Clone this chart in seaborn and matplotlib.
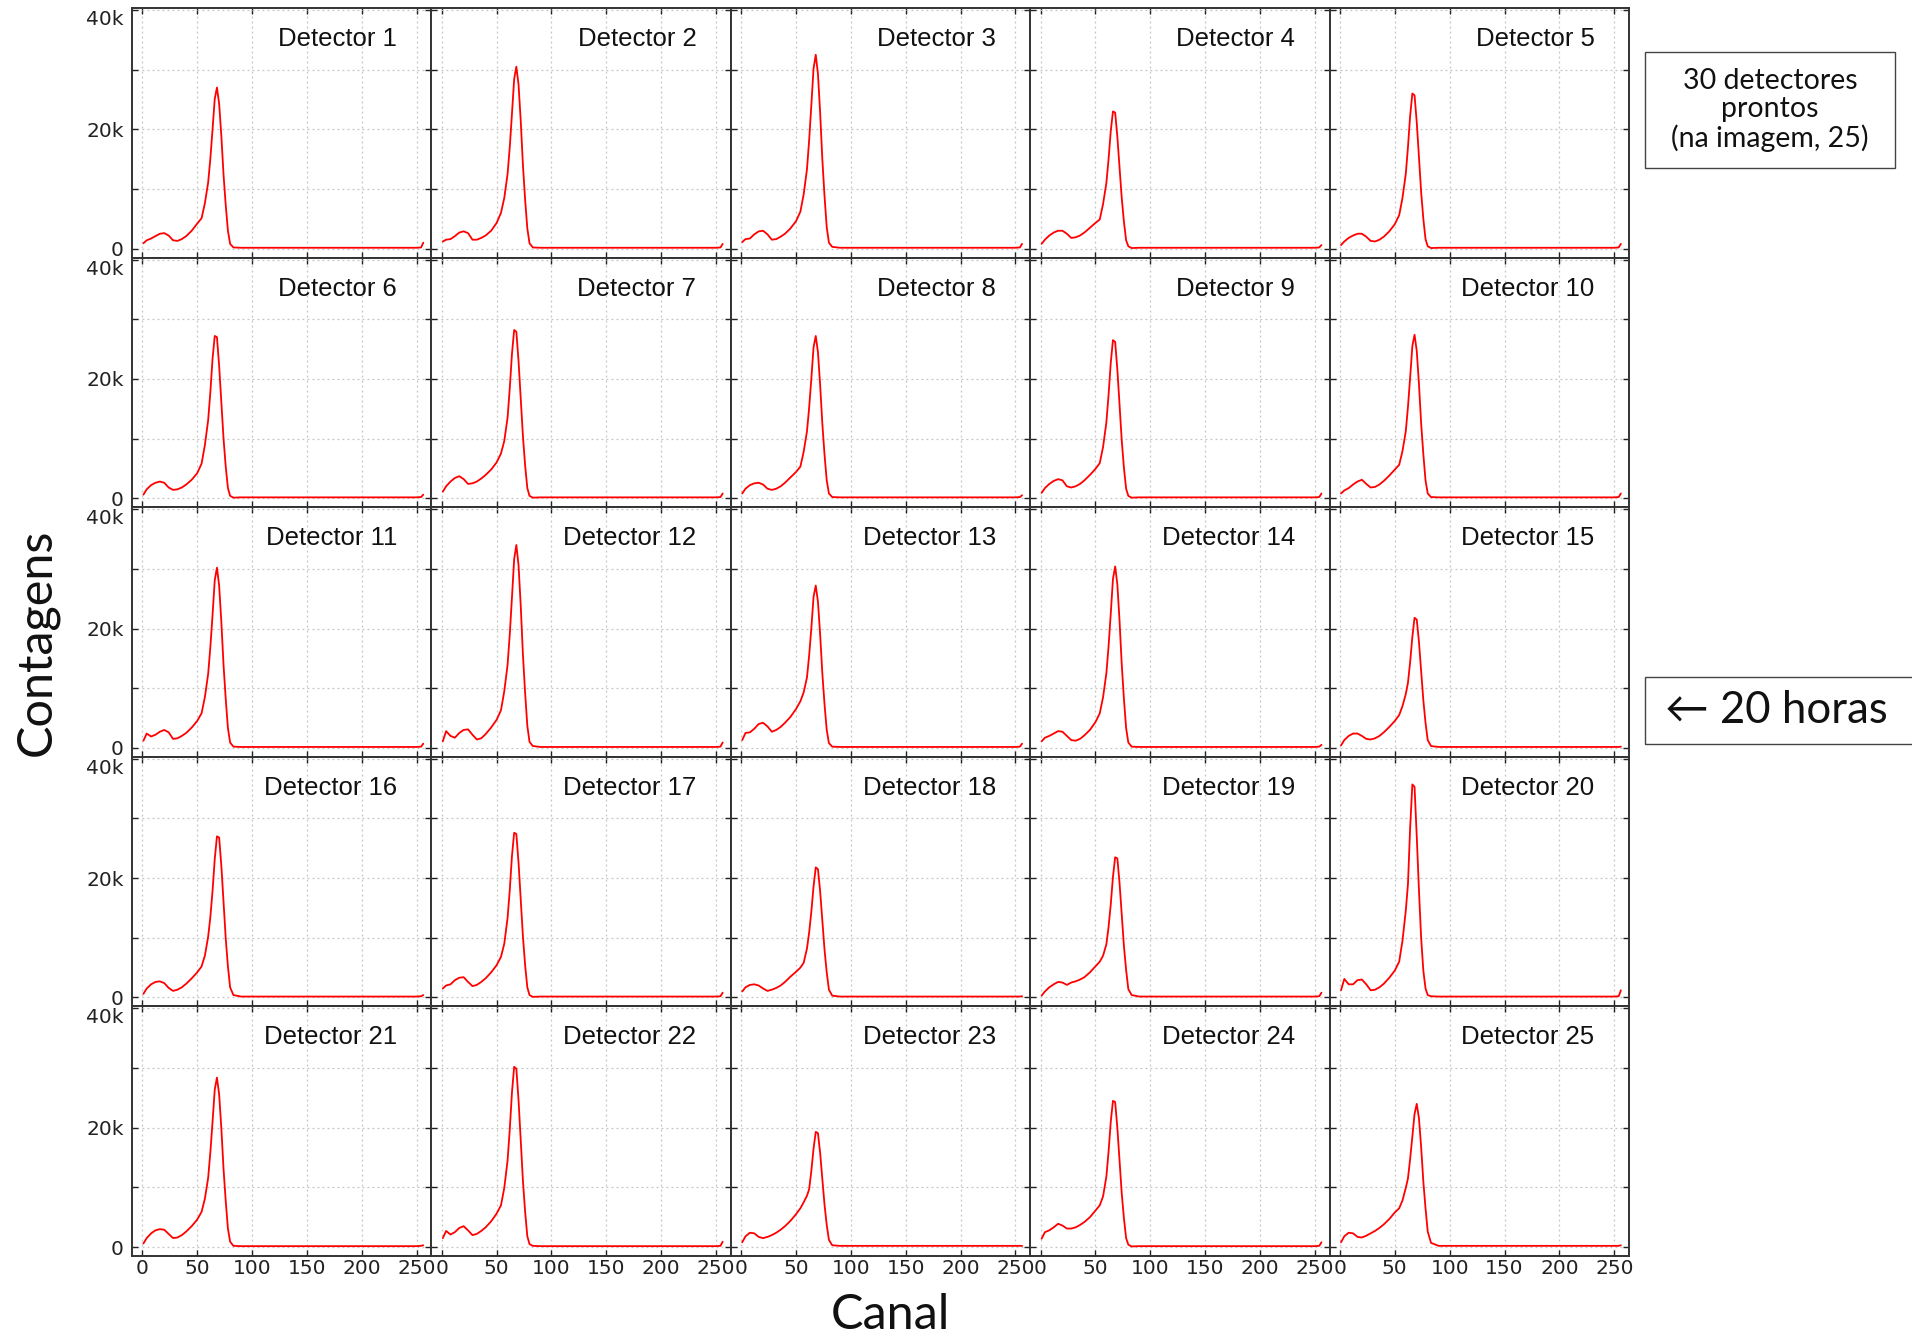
import numpy as np
import pandas as pd
import matplotlib
matplotlib.use("Agg")
import matplotlib.pyplot as plt
import seaborn as sns
from matplotlib.patches import Rectangle
from matplotlib.ticker import FuncFormatter

# ---------------- data (counts in thousands) ----------------
canal = [1, 4, 8, 12, 16, 20, 24, 28, 32, 36, 40, 45, 50,
         54, 57, 60, 62, 64, 66, 68, 70, 72, 74, 76, 78, 80, 83,
         90, 150, 250, 254, 256]

det01 = [0.9, 1.4, 1.7, 2.1, 2.5, 2.6, 2.2, 1.4, 1.3, 1.6, 2.1, 3.0, 4.2,
         5.1, 7.6, 11.1, 15.1, 20.0, 25.1, 27.0, 24.3, 18.9, 12.4, 7.3, 3.0, 0.8, 0.2,
         0.15, 0.15, 0.15, 0.2, 1.0]
det02 = [1.2, 1.5, 1.6, 2.1, 2.7, 2.9, 2.6, 1.5, 1.5, 1.8, 2.2, 3.0, 4.3,
         6.0, 8.5, 12.5, 17.0, 22.6, 28.4, 30.5, 27.5, 21.4, 14.0, 8.2, 3.4, 0.9, 0.2,
         0.15, 0.15, 0.15, 0.2, 0.8]
det03 = [1.1, 1.6, 1.7, 2.4, 2.9, 3.0, 2.4, 1.5, 1.6, 2.0, 2.5, 3.4, 4.6,
         6.2, 9.1, 13.3, 18.2, 24.1, 30.2, 32.5, 29.3, 22.8, 15.0, 8.8, 3.6, 1.0, 0.3,
         0.15, 0.15, 0.15, 0.2, 0.8]
det04 = [0.8, 1.5, 2.2, 2.7, 3.0, 3.0, 2.5, 1.8, 1.9, 2.2, 2.7, 3.5, 4.3,
         4.9, 7.5, 11.0, 15.0, 19.7, 23.0, 22.8, 18.8, 13.6, 8.5, 4.5, 1.4, 0.4, 0.1,
         0.15, 0.15, 0.15, 0.2, 0.6]
det05 = [0.6, 1.2, 1.8, 2.2, 2.5, 2.5, 2.0, 1.3, 1.2, 1.5, 2.0, 2.9, 4.1,
         5.6, 8.5, 12.5, 17.0, 22.3, 26.0, 25.7, 21.2, 15.4, 9.5, 5.0, 1.6, 0.4, 0.1,
         0.15, 0.15, 0.15, 0.2, 0.8]
det06 = [0.6, 1.5, 2.2, 2.6, 2.8, 2.6, 1.8, 1.4, 1.5, 1.8, 2.3, 3.1, 4.2,
         5.8, 8.9, 13.1, 17.8, 23.4, 27.2, 27.0, 22.2, 16.1, 10.0, 5.3, 1.7, 0.4, 0.1,
         0.15, 0.15, 0.15, 0.2, 0.6]
det07 = [1.1, 2.0, 2.8, 3.4, 3.7, 3.2, 2.4, 2.5, 2.8, 3.3, 3.9, 4.8, 6.0,
         7.5, 9.6, 13.5, 18.4, 24.2, 28.2, 27.9, 23.0, 16.7, 10.4, 5.5, 1.7, 0.4, 0.1,
         0.15, 0.15, 0.15, 0.2, 0.8]
det08 = [0.8, 1.6, 2.2, 2.5, 2.6, 2.3, 1.6, 1.4, 1.6, 2.0, 2.6, 3.5, 4.4,
         5.3, 7.8, 11.2, 15.2, 20.1, 25.3, 27.2, 24.5, 19.0, 12.5, 7.3, 3.0, 0.8, 0.2,
         0.15, 0.15, 0.15, 0.2, 0.5]
det09 = [0.9, 1.7, 2.4, 2.9, 3.2, 3.0, 2.0, 1.8, 2.0, 2.4, 3.0, 3.9, 4.9,
         5.9, 8.6, 12.7, 17.3, 22.7, 26.5, 26.2, 21.6, 15.7, 9.7, 5.1, 1.6, 0.4, 0.1,
         0.15, 0.15, 0.15, 0.2, 0.8]
det10 = [0.8, 1.3, 1.7, 2.3, 2.8, 3.1, 2.4, 1.8, 1.9, 2.3, 2.9, 3.8, 4.8,
         5.6, 7.9, 11.2, 15.3, 20.3, 25.5, 27.4, 24.7, 19.2, 12.6, 7.4, 3.0, 0.8, 0.2,
         0.15, 0.15, 0.15, 0.2, 0.8]
det11 = [1.2, 2.4, 1.9, 2.2, 2.7, 3.0, 2.6, 1.5, 1.6, 2.0, 2.5, 3.4, 4.5,
         5.8, 8.5, 12.4, 16.9, 22.3, 28.1, 30.2, 27.2, 21.1, 13.9, 8.2, 3.3, 0.9, 0.2,
         0.15, 0.15, 0.15, 0.2, 0.7]
det12 = [1.1, 2.8, 2.0, 1.7, 2.5, 3.0, 3.1, 2.2, 1.4, 1.6, 2.3, 3.4, 4.7,
         6.3, 9.5, 13.9, 19.0, 25.2, 31.6, 34.0, 30.6, 23.8, 15.6, 9.2, 3.7, 1.0, 0.3,
         0.15, 0.15, 0.15, 0.2, 0.9]
det13 = [1.3, 2.5, 2.6, 3.2, 4.0, 4.2, 3.6, 2.7, 3.0, 3.5, 4.2, 5.2, 6.5,
         7.8, 9.3, 11.8, 15.5, 20.1, 25.3, 27.2, 24.5, 19.0, 12.5, 7.3, 3.0, 0.8, 0.2,
         0.15, 0.15, 0.15, 0.2, 0.7]
det14 = [1.1, 1.7, 2.0, 2.4, 2.8, 2.7, 2.0, 1.3, 1.2, 1.5, 2.1, 3.0, 4.3,
         5.8, 8.5, 12.5, 17.0, 22.5, 28.3, 30.4, 27.4, 21.3, 14.0, 8.2, 3.3, 0.9, 0.2,
         0.15, 0.15, 0.15, 0.2, 0.5]
det15 = [0.4, 1.3, 2.0, 2.4, 2.4, 2.0, 1.5, 1.4, 1.6, 2.0, 2.6, 3.5, 4.5,
         5.5, 7.0, 9.0, 10.9, 14.4, 18.6, 21.8, 21.5, 17.8, 12.9, 8.0, 4.2, 1.3, 0.3,
         0.15, 0.15, 0.15, 0.15, 0.2]
det16 = [0.6, 1.5, 2.2, 2.6, 2.7, 2.4, 1.6, 1.1, 1.3, 1.7, 2.3, 3.2, 4.2,
         5.2, 7.0, 10.2, 13.5, 17.9, 23.2, 27.0, 26.8, 22.1, 16.0, 9.9, 5.2, 1.7, 0.4,
         0.15, 0.15, 0.15, 0.2, 0.4]
det17 = [1.5, 2.0, 2.2, 2.9, 3.3, 3.4, 2.6, 1.9, 2.1, 2.6, 3.2, 4.2, 5.4,
         6.8, 9.0, 13.3, 18.0, 23.7, 27.6, 27.4, 22.6, 16.4, 10.2, 5.4, 1.7, 0.4, 0.1,
         0.15, 0.15, 0.15, 0.2, 0.8]
det18 = [1.0, 1.7, 2.1, 2.2, 2.0, 1.5, 1.1, 1.3, 1.6, 2.0, 2.6, 3.5, 4.3,
         5.0, 5.8, 8.2, 10.9, 14.4, 18.6, 21.8, 21.5, 17.8, 12.9, 8.0, 4.2, 1.3, 0.3,
         0.15, 0.15, 0.15, 0.15, 0.2]
det19 = [0.3, 1.0, 1.7, 2.2, 2.6, 2.5, 2.1, 2.5, 2.7, 3.0, 3.4, 4.2, 5.2,
         6.0, 7.0, 8.9, 11.8, 15.6, 20.2, 23.5, 23.3, 19.2, 13.9, 8.6, 4.6, 1.4, 0.4,
         0.15, 0.15, 0.15, 0.2, 0.8]
det20 = [1.2, 3.1, 2.2, 2.2, 2.9, 3.0, 2.2, 1.2, 1.3, 1.7, 2.3, 3.3, 4.5,
         6.0, 9.5, 14.5, 19.0, 28.5, 35.7, 35.3, 27.0, 18.0, 10.0, 4.5, 1.5, 0.4, 0.2,
         0.15, 0.15, 0.15, 0.2, 1.2]
det21 = [0.6, 1.5, 2.3, 2.8, 3.0, 2.9, 2.2, 1.5, 1.6, 2.0, 2.6, 3.5, 4.6,
         5.9, 8.1, 11.6, 15.9, 21.0, 26.4, 28.4, 25.6, 19.9, 13.1, 7.7, 3.1, 0.9, 0.2,
         0.15, 0.15, 0.15, 0.2, 0.3]
det22 = [1.5, 2.7, 2.1, 2.5, 3.2, 3.5, 2.8, 2.0, 2.2, 2.7, 3.3, 4.3, 5.6,
         7.0, 9.9, 14.5, 19.7, 25.9, 30.2, 29.9, 24.6, 17.9, 11.1, 5.9, 1.8, 0.5, 0.2,
         0.15, 0.15, 0.15, 0.2, 0.9]
det23 = [0.8, 1.8, 2.4, 2.3, 1.7, 1.5, 1.7, 2.0, 2.4, 2.9, 3.5, 4.4, 5.5,
         6.5, 7.5, 8.6, 9.7, 12.8, 16.5, 19.3, 19.1, 15.8, 11.4, 7.1, 3.7, 1.2, 0.3,
         0.2, 0.2, 0.2, 0.2, 0.2]
det24 = [1.4, 2.5, 2.8, 3.3, 3.9, 3.6, 3.1, 3.1, 3.3, 3.7, 4.2, 5.0, 6.1,
         7.0, 8.5, 11.8, 16.0, 21.0, 24.5, 24.3, 20.0, 14.5, 9.0, 4.8, 1.5, 0.4, 0.1,
         0.15, 0.15, 0.15, 0.2, 0.8]
det25 = [0.8, 1.8, 2.4, 2.3, 1.7, 1.6, 1.9, 2.3, 2.7, 3.2, 3.8, 4.7, 5.8,
         6.5, 7.8, 9.9, 11.5, 14.8, 18.5, 22.3, 24.0, 21.6, 16.8, 11.0, 6.5, 2.6, 0.7,
         0.2, 0.2, 0.2, 0.2, 0.3]

detectores = [det01, det02, det03, det04, det05, det06, det07, det08, det09, det10,
              det11, det12, det13, det14, det15, det16, det17, det18, det19, det20,
              det21, det22, det23, det24, det25]
titulos = [f"Detector {i}" for i in range(1, 26)]
x_ticks = [0, 50, 100, 150, 200, 250]
y_ticks = [0, 10000, 20000, 30000, 40000]
y_tick_labels = {0: "0", 20000: "20k", 40000: "40k"}

# ---------------- figure ----------------
sns.set_style("ticks")
plt.rcParams["font.family"] = ["DejaVu Sans"]

W, H = 1912, 1338
fig, axes = plt.subplots(5, 5, figsize=(W / 100, H / 100), dpi=100,
                         sharex=True, sharey=True)
fig.subplots_adjust(left=132 / W, right=1629 / W, top=1 - 8 / H,
                    bottom=1 - 1256 / H, wspace=0, hspace=0)

for i, ax in enumerate(axes.flat):
    df = pd.DataFrame({"Canal": canal,
                       "Contagens": np.array(detectores[i]) * 1000.0})
    sns.lineplot(data=df, x="Canal", y="Contagens", ax=ax,
                 color="#ff0000", linewidth=1.3, zorder=3)
    ax.set_xlim(-9.4, 263.4)
    ax.set_ylim(-1500, 40330)
    ax.set_xticks(x_ticks)
    ax.set_yticks(y_ticks)
    ax.yaxis.set_major_formatter(FuncFormatter(
        lambda v, p: y_tick_labels.get(int(round(v)), "")))
    ax.grid(True, color="#c4c4c4", linestyle=(0, (1.5, 2.5)), linewidth=0.9)
    ax.tick_params(direction="in", top=True, right=True, length=4, width=1,
                   labelsize=14.5, colors="#222222")
    ax.tick_params(axis="x", pad=2)
    ax.tick_params(axis="y", pad=6)
    for s in ax.spines.values():
        s.set_color("#333333")
        s.set_linewidth(1.4)
    ax.set_xlabel("")
    ax.set_ylabel("")
    ax.text(0.885, 0.876, titulos[i], transform=ax.transAxes,
            ha="right", va="center", fontsize=18.5,
            family=["Liberation Sans", "DejaVu Sans"], color="#111111")

# the "40k" label sits just below its tick, as in the reference
for ax in axes[:, 0]:
    ticks = ax.yaxis.get_major_ticks()
    ticks[-1].label1.set_verticalalignment("top")

# axis titles
fig.text(890 / W, 1 - 1337 / H, "Canal", ha="center", va="bottom",
         fontsize=35, family=["Lato", "DejaVu Sans"], color="#111111")
fig.text(50 / W, 1 - 642 / H, "Contagens", ha="center", va="baseline",
         rotation=90, rotation_mode="anchor", fontsize=35,
         family=["Lato", "DejaVu Sans"], color="#111111")

# annotation boxes
fig.add_artist(Rectangle((1645 / W, 1 - 168 / H), 250 / W, 116 / H,
                         transform=fig.transFigure, fill=False,
                         edgecolor="#444444", linewidth=1.0))
fig.text(1770 / W, 1 - 110 / H, "30 detectores\nprontos\n(na imagem, 25)",
         ha="center", va="center", fontsize=20.5, linespacing=1.08,
         family=["Lato", "DejaVu Sans"], color="#111111")

fig.add_artist(Rectangle((1645 / W, 1 - 744 / H), 300 / W, 67 / H,
                         transform=fig.transFigure, fill=False,
                         edgecolor="#444444", linewidth=1.0, clip_on=False))
fig.text(1665 / W, 1 - 723 / H, "\u2190 20 horas", ha="left", va="baseline",
         fontsize=31.5, family=["Lato", "DejaVu Sans"], color="#111111")

fig.savefig("out.png", dpi=100)
